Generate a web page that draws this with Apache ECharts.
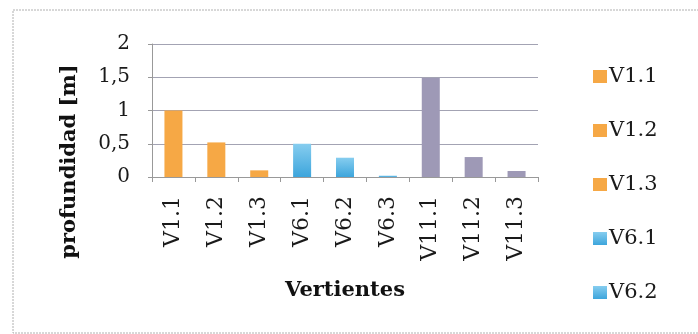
<!DOCTYPE html>
<html>
<head>
<meta charset="utf-8">
<title>Profundidad por vertiente</title>
<script src="https://cdn.jsdelivr.net/npm/echarts@6/dist/echarts.min.js"></script>
<style>
  html, body { margin: 0; padding: 0; background: #ffffff; }
  #chart { width: 698px; height: 334px; }
</style>
</head>
<body>
<div id="chart"></div>
<script>
// Vertientes and measured depth in metres
const categories = ['V1.1', 'V1.2', 'V1.3', 'V6.1', 'V6.2', 'V6.3', 'V11.1', 'V11.2', 'V11.3'];
const depths = [1.0, 0.52, 0.1, 0.5, 0.29, 0.02, 1.49, 0.3, 0.09];
const legendShown = ['V1.1', 'V1.2', 'V1.3', 'V6.1', 'V6.2'];
const yTicks = { min: 0, max: 2, interval: 0.5 };

const FONT = 'DejaVu Serif';
const orange = '#f6a845';
const blue = new echarts.graphic.LinearGradient(0, 0, 0, 1, [
  { offset: 0, color: '#86cdef' },
  { offset: 1, color: '#3da5dc' }
]);
const grey = '#9e99b6';
function colorFor(name) {
  if (name.startsWith('V11')) return grey;
  if (name.startsWith('V6')) return blue;
  return orange;
}

// One series per vertiente, all stacked into the same slot so each bar sits on its own category
const series = categories.map((name, i) => ({
  name: name,
  type: 'bar',
  stack: 'v',
  barWidth: '42%',
  itemStyle: { color: colorFor(name) },
  data: categories.map((_, j) => (j === i ? depths[i] : null))
}));

const chart = echarts.init(document.getElementById('chart'), null, { renderer: 'canvas' });
chart.setOption({
  animation: false,
  backgroundColor: '#ffffff',
  grid: { left: 152, right: 160, top: 44, bottom: 157, containLabel: false },
  legend: {
    data: legendShown,
    orient: 'vertical',
    left: 588,
    top: 61,
    itemWidth: 14,
    itemHeight: 13,
    itemGap: 33,
    icon: 'rect',
    selectedMode: false,
    textStyle: { fontFamily: FONT, fontSize: 21, color: '#1a1a1a', lineHeight: 20, padding: [0, 0, 0, -3] }
  },
  xAxis: {
    type: 'category',
    data: categories,
    name: 'Vertientes',
    nameLocation: 'middle',
    nameGap: 103,
    nameTextStyle: { fontFamily: FONT, fontSize: 21, fontWeight: 'bold', color: '#111111' },
    axisLine: { lineStyle: { color: '#999999', width: 1 } },
    axisTick: { show: true, alignWithLabel: false, length: 5, lineStyle: { color: '#999999' } },
    axisLabel: { rotate: 90, margin: 19, fontFamily: FONT, fontSize: 22, color: '#1a1a1a', interval: 0 }
  },
  yAxis: {
    type: 'value',
    min: yTicks.min,
    max: yTicks.max,
    interval: yTicks.interval,
    name: 'profundidad [m]',
    nameLocation: 'middle',
    nameGap: 72,
    nameRotate: 90,
    nameTextStyle: { fontFamily: FONT, fontSize: 21, fontWeight: 'bold', color: '#111111', padding: [0, 102, 0, 0] },
    axisLine: { show: true, lineStyle: { color: '#999999', width: 1 } },
    axisTick: { show: true, length: 4, lineStyle: { color: '#999999' } },
    axisLabel: {
      margin: 22,
      fontFamily: FONT,
      fontSize: 20,
      color: '#1a1a1a',
      formatter: v => String(v).replace('.', ',')
    },
    splitLine: { show: true, lineStyle: { color: '#a3a3b3', width: 1 } }
  },
  graphic: [
    {
      type: 'rect',
      silent: true,
      shape: { x: 13, y: 10, width: 760, height: 323 },
      style: { fill: 'none', stroke: '#b0b0b0', lineWidth: 1, lineDash: [2, 1] }
    }
  ],
  series: series
});
</script>
</body>
</html>
